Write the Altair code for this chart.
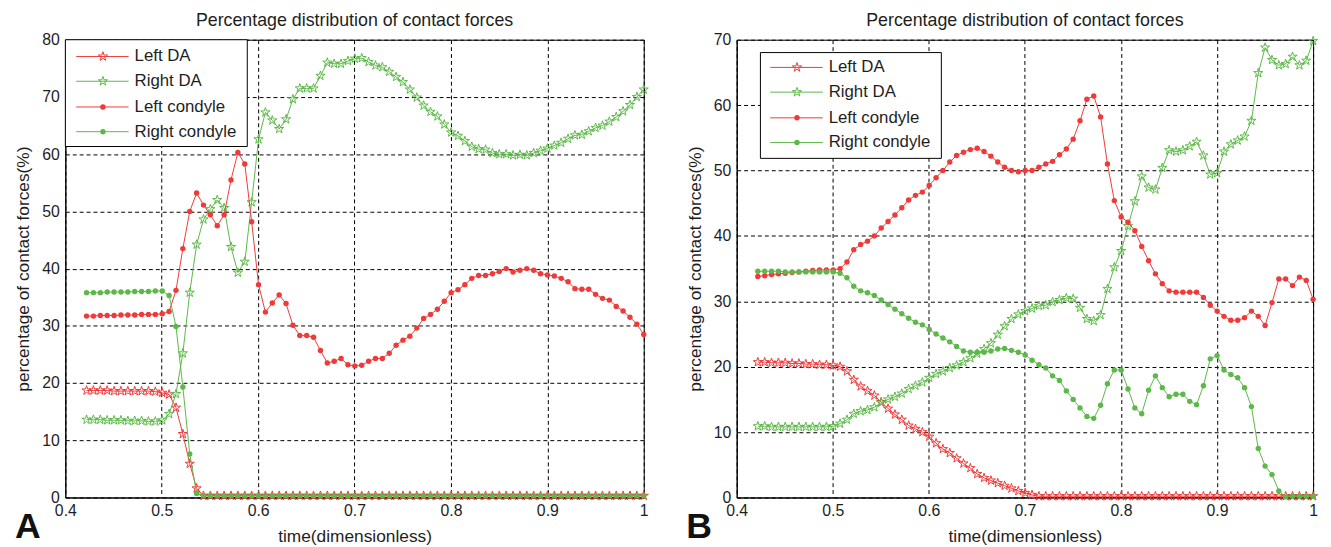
import altair as alt
import pandas as pd

# ---------------- data ----------------
N_SAMPLES = 82
T_START, T_END = 0.422, 1.0
time = [round(T_START + (T_END - T_START) * i / (N_SAMPLES - 1), 5) for i in range(N_SAMPLES)]

series_names = ["Left DA", "Right DA", "Left condyle", "Right condyle"]
x_ticks = [0.4, 0.5, 0.6, 0.7, 0.8, 0.9, 1.0]

# Panel A
a_left_da = [
    18.7, 18.7, 18.7, 18.7, 18.6, 18.6, 18.6, 18.6, 18.6, 18.6, 18.5, 18.3,
    18.0, 15.7, 11.1, 5.9, 1.6,
    0.3, 0.3, 0.3, 0.3, 0.3, 0.3, 0.3, 0.3, 0.3, 0.3, 0.3, 0.3, 0.3,
    0.3, 0.3, 0.3, 0.3, 0.3, 0.3, 0.3, 0.3, 0.3, 0.3, 0.3, 0.3, 0.3,
    0.3, 0.3, 0.3, 0.3, 0.3, 0.3, 0.3, 0.3, 0.3, 0.3, 0.3, 0.3, 0.3,
    0.3, 0.3, 0.3, 0.3, 0.3, 0.3, 0.3, 0.3, 0.3, 0.3, 0.3, 0.3, 0.3,
    0.3, 0.3, 0.3, 0.3, 0.3, 0.3, 0.3, 0.3, 0.3, 0.3, 0.3, 0.3, 0.3,
]
a_right_da = [
    13.6, 13.6, 13.6, 13.5, 13.5, 13.5, 13.4, 13.4, 13.4, 13.3, 13.3, 13.5,
    14.6, 18.1, 25.2, 35.8, 44.2, 48.6, 50.4, 52.0, 50.6, 43.8, 39.3, 41.2, 51.6,
    62.6, 67.3, 65.9, 64.4, 66.1, 69.6, 71.5, 71.5, 71.5, 73.7, 76.0, 75.8, 75.8,
    76.3, 76.7, 76.8, 76.1, 75.5, 75.2, 74.4, 73.5, 72.6, 71.3, 69.9, 68.5, 67.4,
    66.6, 65.2, 63.8, 63.2, 62.3, 61.3, 60.9, 60.8, 60.2, 60.0, 60.0, 59.8, 59.9,
    59.8, 60.2, 60.6, 61.0, 61.5, 62.0, 62.7, 63.3, 63.4, 64.0, 64.6, 65.0, 65.7,
    66.5, 67.5, 68.6, 70.0, 71.3,
]
a_left_condyle = [
    31.7, 31.7, 31.8, 31.8, 31.8, 31.9, 31.9, 31.9, 32.0, 32.0, 32.0, 32.1,
    32.5, 36.2, 43.5, 50.0, 53.2, 51.1, 49.4, 47.5, 49.4, 55.5, 60.3, 58.3, 48.2,
    37.2, 32.4, 34.0,
    35.4, 33.9, 30.1, 28.3, 28.3, 28.0, 25.7, 23.5, 23.8, 24.3, 23.2, 23.0, 23.1,
    23.8, 24.3, 24.3, 25.2, 26.6, 27.5, 28.2, 29.6, 31.3, 32.0, 32.9, 34.3, 35.8,
    36.3, 37.2, 38.3, 38.8, 38.8, 39.1, 39.5, 40.0, 39.4, 39.7, 40.0, 39.7, 39.1,
    38.9, 38.7, 38.3, 37.7, 36.5, 36.4, 36.4, 35.5, 34.8, 34.5, 33.4, 32.6, 31.5,
    30.3, 28.5,
]
a_right_condyle = [
    35.8, 35.8, 35.8, 35.9, 35.9, 35.9, 35.9, 36.0, 36.0, 36.0, 36.1, 36.1,
    35.3, 29.9, 19.3, 7.6, 0.7,
    0.3, 0.3, 0.3, 0.3, 0.3, 0.3, 0.3, 0.3, 0.3, 0.3, 0.3, 0.3, 0.3,
    0.3, 0.3, 0.3, 0.3, 0.3, 0.3, 0.3, 0.3, 0.3, 0.3, 0.3, 0.3, 0.3,
    0.3, 0.3, 0.3, 0.3, 0.3, 0.3, 0.3, 0.3, 0.3, 0.3, 0.3, 0.3, 0.3,
    0.3, 0.3, 0.3, 0.3, 0.3, 0.3, 0.3, 0.3, 0.3, 0.3, 0.3, 0.3, 0.3,
    0.3, 0.3, 0.3, 0.3, 0.3, 0.3, 0.3, 0.3, 0.3, 0.3, 0.3, 0.3, 0.3,
]

# Panel B
b_left_da = [
    20.7, 20.7, 20.6, 20.6, 20.6, 20.5, 20.5, 20.4, 20.4, 20.3, 20.3,
    20.2, 20.0, 19.3, 18.0, 17.0, 16.3, 15.6, 14.6, 13.6, 12.7, 11.9, 11.0, 10.5,
    10.0, 9.3, 8.3, 7.4, 6.8, 6.0, 5.2, 4.5, 3.6, 3.0, 2.6, 2.2, 1.8, 1.4, 1.0,
    0.7, 0.4,
    0.2, 0.2, 0.2, 0.2, 0.2, 0.2, 0.2, 0.2, 0.2, 0.2, 0.2, 0.2, 0.2, 0.2,
    0.2, 0.2, 0.2, 0.2, 0.2, 0.2, 0.2, 0.2, 0.2, 0.2, 0.2, 0.2, 0.2, 0.2,
    0.2, 0.2, 0.2, 0.2, 0.2, 0.2, 0.2, 0.2, 0.2, 0.2, 0.2, 0.2, 0.2,
]
b_right_da = [
    10.9, 10.9, 10.8, 10.8, 10.8, 10.8, 10.8, 10.8, 10.8, 10.8, 10.8,
    10.9, 11.3, 11.9, 12.8, 13.2, 13.4, 13.8, 14.5, 15.0, 15.4, 15.9, 16.6, 17.1,
    17.6, 18.3, 18.9, 19.3, 19.8, 20.2, 20.7, 21.3, 22.0, 22.7, 23.6, 24.9, 26.2,
    27.3, 28.0, 28.5, 28.9, 29.3,
    29.4, 29.9, 30.2, 30.5, 30.4, 29.0, 27.3, 27.0, 27.9, 31.9, 35.2, 37.7, 41.5,
    45.3, 49.1, 47.4, 47.1, 50.4, 53.1, 52.9, 53.1, 53.7, 54.4, 52.3, 49.4, 49.6,
    52.9, 54.0, 54.6, 55.2, 57.6, 64.9, 68.8, 66.9, 66.1, 66.3, 67.4, 66.1, 66.8,
    69.8,
]
b_left_condyle = [
    33.8, 33.9, 34.1, 34.2, 34.3, 34.4, 34.5, 34.6, 34.7, 34.8, 34.8, 34.8,
    35.0, 36.0, 37.9, 38.7, 39.2, 40.0, 41.2, 42.2, 43.2, 44.3,
    45.5, 46.2, 46.7, 47.7, 48.9, 50.0, 51.3, 52.3, 52.8, 53.2,
    53.4, 52.9, 52.2, 51.3, 50.5, 50.0, 49.8, 50.0, 50.0, 50.5,
    51.0, 51.4, 52.4, 53.3, 54.8, 57.6, 60.9, 61.4, 58.2, 51.0,
    45.4, 42.9, 42.1, 40.8, 38.4, 36.2, 34.2, 32.7, 31.6, 31.4,
    31.4, 31.4, 31.4, 30.6, 29.4, 28.5, 27.7, 27.1, 27.1, 27.5,
    28.5, 27.7, 26.3, 29.8, 33.4, 33.4, 32.4, 33.7, 33.2, 30.3,
]
b_right_condyle = [
    34.6, 34.6, 34.6, 34.6, 34.5, 34.5, 34.5, 34.5, 34.5, 34.5, 34.5, 34.5,
    34.3, 33.6, 32.3, 31.6, 31.3, 30.9, 30.2, 29.5, 28.8, 28.1, 27.4, 26.8, 26.4,
    25.7, 25.0, 24.4, 23.8, 23.1, 22.4, 22.2, 22.2, 22.2, 22.4, 22.7, 22.8, 22.5,
    22.2, 21.8, 21.0, 20.3,
    19.8, 18.6, 17.9, 16.3, 15.0, 13.7, 12.4, 12.1, 14.1, 17.4, 19.5, 19.5, 16.6,
    13.7, 12.8, 16.4, 18.6, 16.8, 15.4, 15.8, 15.8, 14.7, 14.2, 17.1, 21.2, 21.7,
    19.5, 18.8, 18.3, 16.8, 13.9, 7.5, 4.8, 3.5, 1.0, 0.1, 0.2, 0.2, 0.2, 0.2,
]

# ---------------- styles ----------------
FONT = "Liberation Sans, Arial, sans-serif"
RED = "#ef3a3a"
GREEN = "#5cb848"
TEXT = "#1e1e1e"
STAR = ("M0,-1L0.2245,-0.309L0.9511,-0.309L0.3633,0.118L0.5878,0.809L0,0.382"
        "L-0.5878,0.809L-0.3633,0.118L-0.9511,-0.309L-0.2245,-0.309Z")
series_colors = [RED, GREEN, RED, GREEN]
series_is_star = [True, True, False, False]
STAR_SIZE = 95
DOT_SIZE = 30
PLOT_H = 463
TITLE = "Percentage distribution of contact forces"


def make_panel(values, ymax, width, legend_box, legend_rows, line_x, mark_x, text_x, letter):
    rows = []
    for name, vals in zip(series_names, values):
        for t, v in zip(time, vals):
            rows.append({"time": t, "value": v, "series": name})
    df = pd.DataFrame(rows)

    x = alt.X(
        "time:Q",
        scale=alt.Scale(domain=[0.4, 1.0], nice=False, zero=False),
        axis=alt.Axis(
            values=x_ticks,
            labelFlush=False,
            labelExpr="datum.value > 0.99 ? '1' : format(datum.value, '.1f')",
            title="time(dimensionless)",
        ),
    )
    y = alt.Y(
        "value:Q",
        scale=alt.Scale(domain=[0, ymax], nice=False),
        axis=alt.Axis(values=list(range(0, ymax + 1, 10)), title="percentage of contact forces(%)"),
    )

    layers = []
    for name, color, star in zip(series_names, series_colors, series_is_star):
        base = alt.Chart(df).transform_filter(alt.datum.series == name)
        layers.append(base.mark_line(color=color, strokeWidth=1).encode(x=x, y=y))
        if star:
            layers.append(
                base.mark_point(shape=STAR, size=STAR_SIZE, filled=False, color=color,
                                strokeWidth=1, opacity=1).encode(x=x, y=y)
            )
        else:
            layers.append(
                base.mark_point(shape="circle", size=DOT_SIZE, filled=True, color=color,
                                opacity=1).encode(x=x, y=y)
            )

    # legend box
    bx0, by0, bx1, by1 = legend_box
    one = pd.DataFrame({"k": [0]})
    layers.append(
        alt.Chart(one).mark_rect(fill="white", stroke="black", strokeWidth=1).encode(
            x=alt.value(bx0), x2=alt.value(bx1), y=alt.value(by0), y2=alt.value(by1)
        )
    )
    for name, color, star, ry in zip(series_names, series_colors, series_is_star, legend_rows):
        lab = pd.DataFrame({"label": [name]})
        layers.append(
            alt.Chart(lab).mark_rule(color=color, strokeWidth=1).encode(
                x=alt.value(line_x[0]), x2=alt.value(line_x[1]), y=alt.value(ry)
            )
        )
        if star:
            pm = alt.Chart(lab).mark_point(shape=STAR, size=STAR_SIZE, filled=False, color=color,
                                           strokeWidth=1, opacity=1)
        else:
            pm = alt.Chart(lab).mark_point(shape="circle", size=DOT_SIZE, filled=True, color=color,
                                           opacity=1)
        layers.append(pm.encode(x=alt.value(mark_x), y=alt.value(ry)))
        layers.append(
            alt.Chart(lab).mark_text(align="left", baseline="middle", font=FONT, fontSize=17,
                                     color=TEXT).encode(
                x=alt.value(text_x), y=alt.value(ry), text="label:N"
            )
        )

    # panel letter
    layers.append(
        alt.Chart(pd.DataFrame({"letter": [letter]})).mark_text(
            align="center", baseline="middle", font=FONT, fontSize=36, fontWeight="bold", color="#111"
        ).encode(x=alt.value(-38), y=alt.value(493), text="letter:N")
    )

    return alt.layer(*layers).properties(
        width=width,
        height=PLOT_H,
        title=alt.TitleParams(TITLE, font=FONT, fontSize=18, fontWeight="normal", color=TEXT, offset=2),
    )


panel_a = make_panel(
    [a_left_da, a_right_da, a_left_condyle, a_right_condyle], 80, 585,
    (0, 0, 184, 108), [17, 42, 68, 93], (11, 64), 38, 70, "A",
)
panel_b = make_panel(
    [b_left_da, b_right_da, b_left_condyle, b_right_condyle], 70, 583,
    (24, 13, 207, 120), [28, 53, 79, 104], (34, 87), 61, 93, "B",
)

chart = (
    alt.hconcat(panel_a, panel_b, spacing=34)
    .properties(padding={"left": 6, "top": 0, "right": 2, "bottom": 0}, background="white")
    .configure_view(stroke="black", strokeWidth=1)
    .configure_axis(
        domainColor="black",
        domainWidth=1,
        ticks=False,
        grid=True,
        gridColor="black",
        gridDash=[4, 3],
        gridWidth=1,
        gridOpacity=1,
        labelFont=FONT,
        labelFontSize=16,
        labelColor=TEXT,
        titleFont=FONT,
        titleFontSize=17.5,
        titleFontWeight="normal",
        titleColor=TEXT,
    )
    .configure_axisX(labelPadding=5, titlePadding=9)
    .configure_axisY(labelPadding=6, titlePadding=9)
)

chart.save("out.html", embed_options={"renderer": "svg", "actions": False})
